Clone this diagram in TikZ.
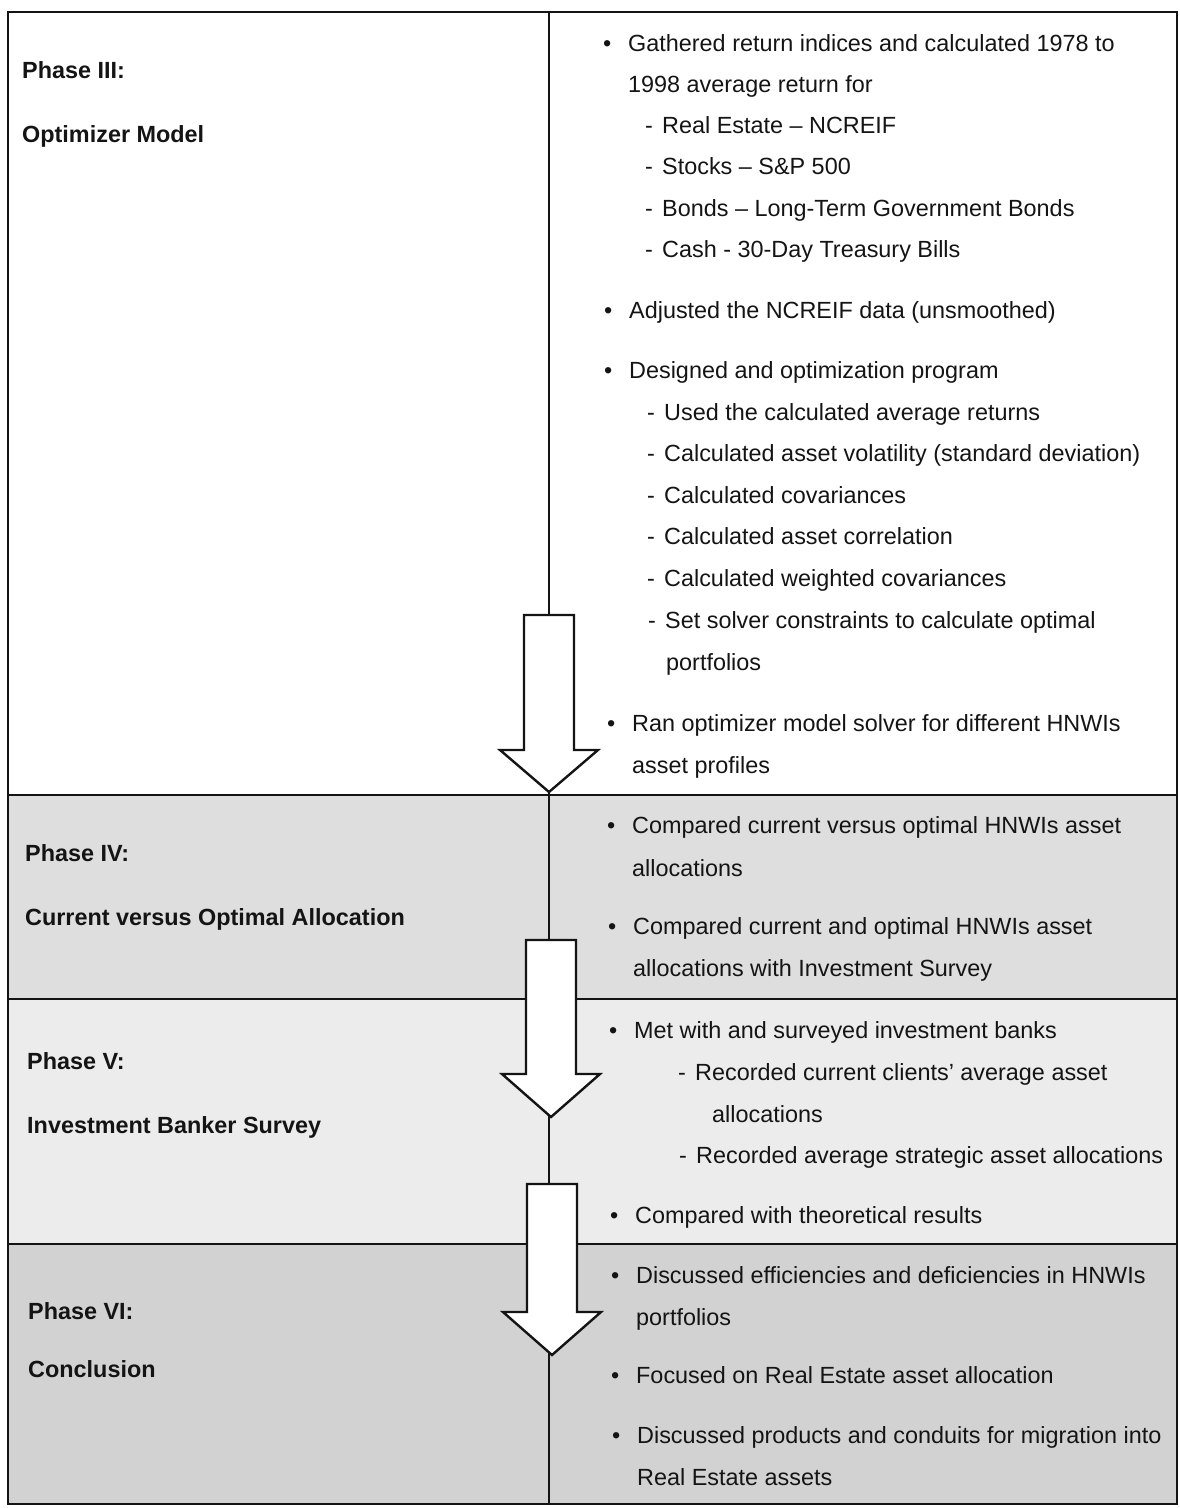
\documentclass[tikz,border=0pt]{standalone}
\usepackage{fontspec}
\setmainfont{Liberation Sans}
\usepackage{tikz}
\usetikzlibrary{positioning}
\definecolor{phaseIV}{RGB}{222,222,222}
\definecolor{phaseV}{RGB}{236,236,236}
\definecolor{phaseVI}{RGB}{210,210,210}
\definecolor{ink}{RGB}{20,20,20}
\newcommand{\bul}{\makebox[25pt][l]{\textbullet}}
\newcommand{\dsh}{\makebox[17pt][l]{-}}

\begin{document}
\begin{tikzpicture}[x=1pt, y=-1pt, font=\fontsize{23.4}{28}\selectfont]
        \tikzset{ lbl/.style ={anchor=base west, inner sep=0pt, text=ink, font=\fontsize{23.4}{28}\selectfont\bfseries} }
        \tikzset{ itm/.style ={anchor=base west, inner sep=0pt, text=ink} }
        \tikzset{ blk/.style ={draw=ink, line width=2.4pt, fill=white, line join=miter} }
        \tikzset{ rule/.style={draw=ink, line width=1.3pt} }

        \useasboundingbox (0,0) rectangle (1180,1508);

        % phase bands
        \fill[phaseIV] (8,795)  rectangle (1177,999);
        \fill[phaseV]  (8,999)  rectangle (1177,1244);
        \fill[phaseVI] (8,1244) rectangle (1177,1504);

        \draw[rule] (8,12) rectangle (1177,1504);
        \draw[rule] (8,795)  -- (1177,795);
        \draw[rule] (8,999)  -- (1177,999);
        \draw[rule] (8,1244) -- (1177,1244);
        \draw[rule] (549,12) -- (549,1504);

        % left column
        \node[lbl] (p3)  at (22,78)    {Phase III:};
        \node[lbl] (p3t) at (22,142)   {Optimizer Model};
        \node[lbl] (p4)  at (25,861)   {Phase IV:};
        \node[lbl] (p4t) at (25,925)   {Current versus Optimal Allocation};
        \node[lbl] (p5)  at (27,1069)  {Phase V:};
        \node[lbl] (p5t) at (27,1133)  {Investment Banker Survey};
        \node[lbl] (p6)  at (28,1319)  {Phase VI:};
        \node[lbl] (p6t) at (28,1377)  {Conclusion};

        % phase III
        \node[itm] (a1)  at (603,51)   {\bul Gathered return indices and calculated 1978 to};
        \node[itm] (a2)  at (628,92)   {1998 average return for};
        \node[itm] (a3)  at (645,133)  {\dsh Real Estate – NCREIF};
        \node[itm] (a4)  at (645,174)  {\dsh Stocks – S\&P 500};
        \node[itm] (a5)  at (645,216)  {\dsh Bonds – Long-Term Government Bonds};
        \node[itm] (a6)  at (645,257)  {\dsh Cash - 30-Day Treasury Bills};
        \node[itm] (a7)  at (604,318)  {\bul Adjusted the NCREIF data (unsmoothed)};
        \node[itm] (a8)  at (604,378)  {\bul Designed and optimization program};
        \node[itm] (a9)  at (647,420)  {\dsh Used the calculated average returns};
        \node[itm] (a10) at (647,461)  {\dsh Calculated asset volatility (standard deviation)};
        \node[itm] (a11) at (647,503)  {\dsh Calculated covariances};
        \node[itm] (a12) at (647,544)  {\dsh Calculated asset correlation};
        \node[itm] (a13) at (647,586)  {\dsh Calculated weighted covariances};
        \node[itm] (a14) at (648,628)  {\dsh Set solver constraints to calculate optimal};
        \node[itm] (a15) at (666,670)  {portfolios};
        \node[itm] (a16) at (607,731)  {\bul Ran optimizer model solver for different HNWIs};
        \node[itm] (a17) at (632,773)  {asset profiles};

        % phase IV
        \node[itm] (b1)  at (607,833)  {\bul Compared current versus optimal HNWIs asset};
        \node[itm] (b2)  at (632,876)  {allocations};
        \node[itm] (b3)  at (608,934)  {\bul Compared current and optimal HNWIs asset};
        \node[itm] (b4)  at (633,976)  {allocations with Investment Survey};

        % phase V
        \node[itm] (c1)  at (609,1038) {\bul Met with and surveyed investment banks};
        \node[itm] (c2)  at (678,1080) {\dsh Recorded current clients’ average asset};
        \node[itm] (c3)  at (712,1122) {allocations};
        \node[itm] (c4)  at (679,1163) {\dsh Recorded average strategic asset allocations};
        \node[itm] (c5)  at (610,1223) {\bul Compared with theoretical results};

        % phase VI
        \node[itm] (d1)  at (611,1283) {\bul Discussed efficiencies and deficiencies in HNWIs};
        \node[itm] (d2)  at (636,1325) {portfolios};
        \node[itm] (d3)  at (611,1383) {\bul Focused on Real Estate asset allocation};
        \node[itm] (d4)  at (612,1443) {\bul Discussed products and conduits for migration into};
        \node[itm] (d5)  at (637,1485) {Real Estate assets};

        % block arrows between phases
        \foreach \x/\top/\head/\tip in {549/615/750/792, 551/940/1074/1117, 552/1184/1312/1355}
          \draw[blk] (\x-25,\top) -- (\x+25,\top) -- (\x+25,\head) -- (\x+49,\head)
                     -- (\x,\tip) -- (\x-49,\head) -- (\x-25,\head) -- cycle;
      \end{tikzpicture}
\end{document}
